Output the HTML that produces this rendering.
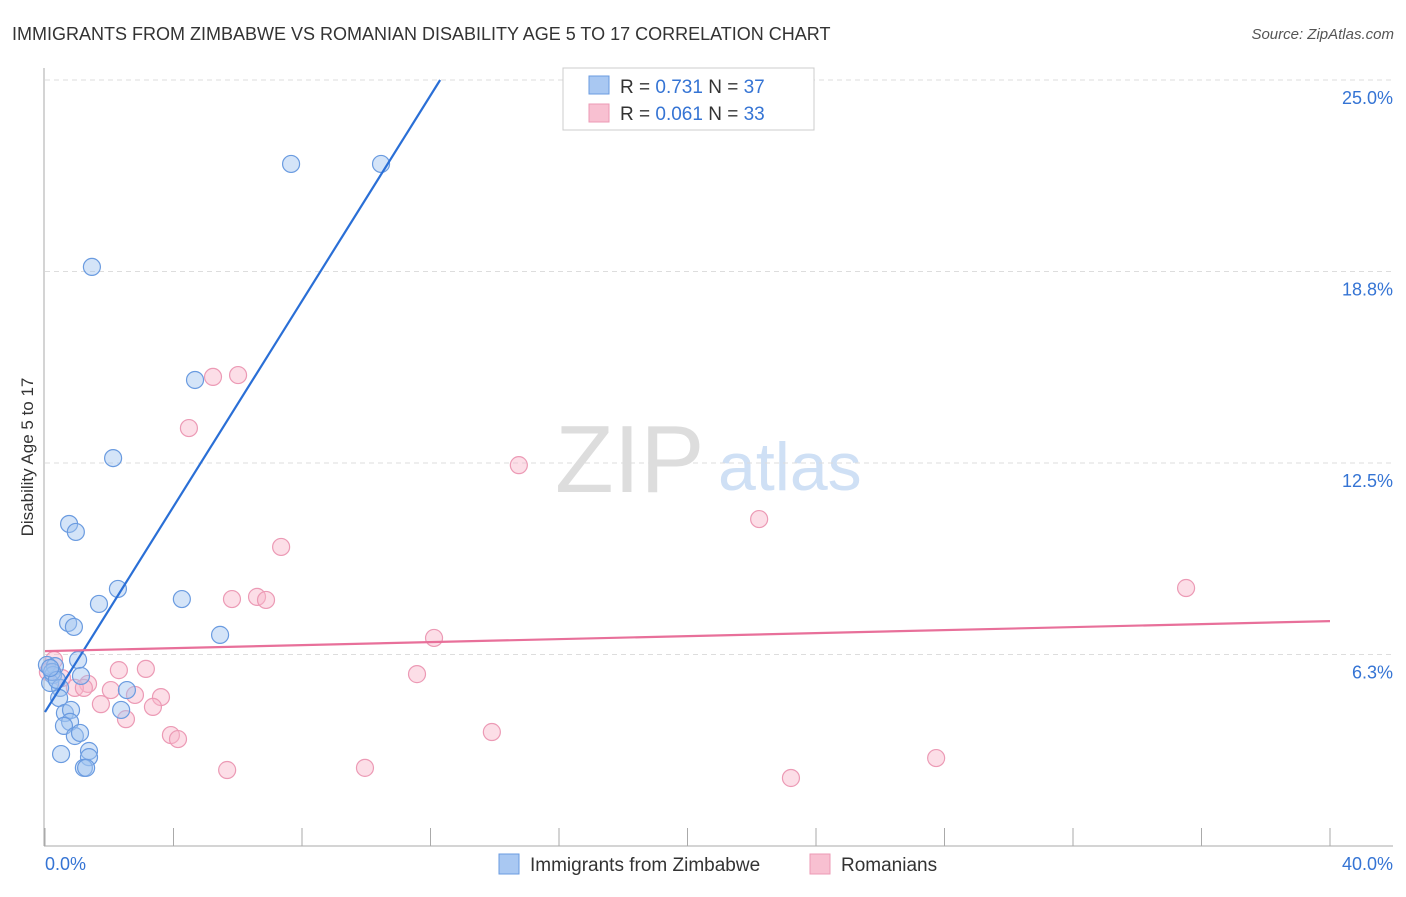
<!DOCTYPE html>
<html><head><meta charset="utf-8"><style>
body{margin:0;background:#fff;font-family:"Liberation Sans",sans-serif;}
svg text{font-family:"Liberation Sans",sans-serif;}
</style></head><body>
<svg width="1406" height="892" id="chart">
<text x="12" y="40" font-size="18" fill="#333">IMMIGRANTS FROM ZIMBABWE VS ROMANIAN DISABILITY AGE 5 TO 17 CORRELATION CHART</text>
<text x="1394" y="39" font-size="15" fill="#555" font-style="italic" text-anchor="end">Source: ZipAtlas.com</text>
<text transform="translate(33,457) rotate(-90)" font-size="17" fill="#333" text-anchor="middle">Disability Age 5 to 17</text>
<text x="555" y="492" font-size="96" fill="#ddd" font-family="Liberation Serif">ZIP</text>
<text x="718" y="490" font-size="68" fill="#cfe0f5">atlas</text>
<g id="grid"></g><g id="axes"></g><g id="pts"></g><g id="lines"></g>
<g>
<rect x="563" y="68" width="251" height="62" fill="#fff" stroke="#ccc"/>
<rect x="589" y="76" width="20" height="18" fill="#a9c8f2" stroke="#6a9be0"/>
<text x="620" y="93" font-size="19" fill="#333">R = <tspan fill="#3574d4">0.731</tspan>   N = <tspan fill="#3574d4">37</tspan></text>
<rect x="589" y="104" width="20" height="18" fill="#f8c0d1" stroke="#ec9ab5"/>
<text x="620" y="120" font-size="19" fill="#333">R = <tspan fill="#3574d4">0.061</tspan>   N = <tspan fill="#3574d4">33</tspan></text>
</g>
<g>
<rect x="499" y="854" width="20" height="20" fill="#a9c8f2" stroke="#6a9be0"/>
<text x="530" y="871" font-size="19" fill="#333">Immigrants from Zimbabwe</text>
<rect x="810" y="854" width="20" height="20" fill="#f8c0d1" stroke="#ec9ab5"/>
<text x="841" y="871" font-size="19" fill="#333">Romanians</text>
</g>
</svg>
<script>
const yTicks=[6.25,12.5,18.75,25];
const yTickLabels=["6.3%","12.5%","18.8%","25.0%"];
const xTicks=[0,4,8,12,16,20,24,28,32,36,40];
const blueX=[7.66,10.46,1.46,4.67,2.12,0.75,0.96,2.27,1.68,4.26,0.72,0.90,5.45,1.03,0.06,0.31,0.25,1.12,0.16,0.47,2.55,0.44,0.62,0.81,0.78,2.37,0.59,0.93,1.09,0.50,1.37,1.37,1.21,1.28,0.22,0.37,0.16];
const blueY=[22.26,22.26,18.90,15.21,12.66,10.51,10.25,8.39,7.90,8.06,7.28,7.15,6.89,6.07,5.91,5.87,5.58,5.55,5.32,5.16,5.09,4.83,4.34,4.44,4.05,4.44,3.92,3.59,3.69,3.00,3.10,2.90,2.55,2.55,5.68,5.42,5.81];
const pinkX=[6.01,5.23,4.48,14.75,22.23,7.35,35.52,5.82,6.60,6.88,12.11,0.28,3.14,2.30,11.58,1.34,0.93,2.05,2.80,3.61,1.74,3.36,2.52,3.92,4.14,13.91,5.67,9.96,27.74,23.22,0.53,1.21,0.09];
const pinkY=[15.37,15.31,13.64,12.43,10.67,9.76,8.42,8.06,8.13,8.03,6.79,6.07,5.78,5.74,5.61,5.29,5.16,5.09,4.93,4.86,4.63,4.54,4.14,3.62,3.49,3.72,2.48,2.55,2.87,2.22,5.48,5.16,5.68];
const blueLine=[[0,4.37],[12.3,25]];
const pinkLine=[[0,6.36],[40,7.34]];
const NS="http://www.w3.org/2000/svg";
const sx=v=>45+v*32.125, sy=v=>846-v*30.64;
function mk(p,t,a){const e=document.createElementNS(NS,t);for(const k in a)e.setAttribute(k,a[k]);p.appendChild(e);return e;}
const grid=document.getElementById('grid'),axes=document.getElementById('axes'),pts=document.getElementById('pts'),lines=document.getElementById('lines');
yTicks.forEach((t,i)=>{
const g=mk(grid,'line',{x1:45,x2:1393,y1:sy(t),y2:sy(t),stroke:'#ddd','stroke-dasharray':'5,4'});


const l=mk(grid,'text',{x:1393,y:sy(t)+24,'font-size':18,fill:'#3574d4','text-anchor':'end'});l.textContent=yTickLabels[i];


});
const ax=mk(axes,'line',{x1:44,x2:44,y1:68,y2:846,stroke:'#aaa'});


const bx=mk(axes,'line',{x1:44,x2:1393,y1:846,y2:846,stroke:'#aaa'});


xTicks.forEach(t=>{const k=mk(axes,'line',{x1:sx(t),x2:sx(t),y1:828,y2:846,stroke:'#aaa'});

});
const x0=mk(axes,'text',{x:45,y:870,'font-size':18,fill:'#3574d4'});x0.textContent='0.0%';


const x1=mk(axes,'text',{x:1393,y:870,'font-size':18,fill:'#3574d4','text-anchor':'end'});x1.textContent='40.0%';


pinkX.forEach((x,i)=>{const c=mk(pts,'circle',{cx:sx(x),cy:sy(pinkY[i]),r:8.5,fill:'rgba(248,182,202,0.45)',stroke:'#ec9ab5','stroke-width':1.2});

});
blueX.forEach((x,i)=>{const c=mk(pts,'circle',{cx:sx(x),cy:sy(blueY[i]),r:8.5,fill:'rgba(160,196,240,0.45)',stroke:'#6a9be0','stroke-width':1.2});

});
const bl=mk(lines,'line',{x1:sx(blueLine[0][0]),y1:sy(blueLine[0][1]),x2:sx(blueLine[1][0]),y2:sy(blueLine[1][1]),stroke:'#2a6fd6','stroke-width':2.2});


const pl=mk(lines,'line',{x1:sx(pinkLine[0][0]),y1:sy(pinkLine[0][1]),x2:sx(pinkLine[1][0]),y2:sy(pinkLine[1][1]),stroke:'#e8709a','stroke-width':2.2});


</script>
</body></html>
